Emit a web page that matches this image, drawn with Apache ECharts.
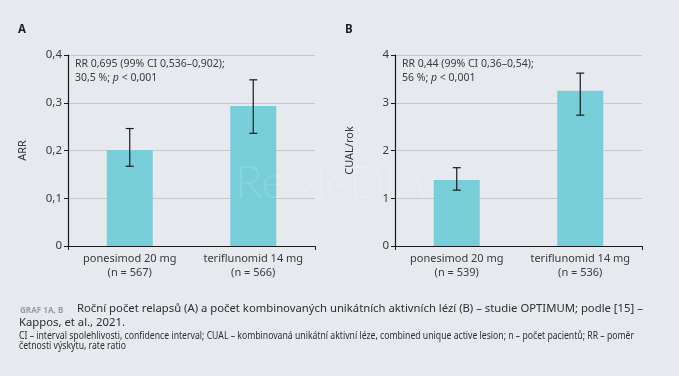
<!DOCTYPE html>
<html>
<head>
<meta charset="utf-8">
<script src="https://cdn.jsdelivr.net/npm/echarts@6/dist/echarts.min.js"></script>
<style>
html, body { margin: 0; padding: 0; background: #e6eaee; }
#main { width: 679px; height: 376px; }
</style>
</head>
<body>
<div id="main"></div>
<script>
// data panel A - rocni pocet relapsu
var catsA = ['ponesimod 20 mg\n(n = 567)', 'teriflunomid 14 mg\n(n = 566)'];
var arrVal = [0.201, 0.293];
var arrLow = [0.167, 0.236];
var arrHigh = [0.246, 0.348];
// data panel B - CUAL/rok
var catsB = ['ponesimod 20 mg\n(n = 539)', 'teriflunomid 14 mg\n(n = 536)'];
var cualVal = [1.38, 3.25];
var cualLow = [1.17, 2.74];
var cualHigh = [1.64, 3.62];
// osy
var ticksA = [0, 0.1, 0.2, 0.3, 0.4];
var ticksB = [0, 1, 2, 3, 4];

var font = 'Noto Sans';
var txt = '#3a3a3a';
var barColor = '#77cdd8';

var myChart = echarts.init(document.getElementById('main'), null, {renderer: 'canvas'});

function errItem(params, api) {
    var x = api.value(0);
    var lo = api.coord([x, api.value(1)]);
    var hi = api.coord([x, api.value(2)]);
    var w = 4;
    var st = {stroke: '#1a1a1a', lineWidth: 1.2};
    return {
        type: 'group',
        children: [
            {type: 'line', shape: {x1: hi[0], y1: hi[1], x2: lo[0], y2: lo[1]}, style: st},
            {type: 'line', shape: {x1: hi[0] - w, y1: hi[1], x2: hi[0] + w, y2: hi[1]}, style: st},
            {type: 'line', shape: {x1: lo[0] - w, y1: lo[1], x2: lo[0] + w, y2: lo[1]}, style: st}
        ]
    };
}

function xAx(idx, cats) {
    return {
        type: 'category',
        gridIndex: idx,
        data: cats,
        axisLine: {lineStyle: {color: '#1a1a1a', width: 1.2}},
        axisTick: {show: true, length: 4, interval: function (i) { return i === 0; }, lineStyle: {color: '#1a1a1a'}},
        axisLabel: {color: txt, fontFamily: font, fontSize: 11, lineHeight: 14, margin: 6, interval: 0}
    };
}

function yAx(idx, name, ticks, fmt) {
    return {
        type: 'value',
        gridIndex: idx,
        min: ticks[0],
        max: ticks[ticks.length - 1],
        interval: ticks[1] - ticks[0],
        name: name,
        nameLocation: 'middle',
        nameRotate: 90,
        nameGap: 40,
        nameTextStyle: {color: txt, fontFamily: font, fontSize: 11},
        axisLine: {show: true, lineStyle: {color: '#1a1a1a', width: 1.2}},
        axisTick: {show: true, length: 4, lineStyle: {color: '#1a1a1a'}},
        axisLabel: {color: txt, fontFamily: font, fontSize: 11.5, margin: 6, formatter: fmt},
        splitLine: {lineStyle: {color: '#c6c9cc', width: 1}}
    };
}

var fmtA = function (v) { return v === 0 ? '0' : v.toFixed(1).replace('.', ','); };
var fmtB = function (v) { return String(v); };

var option = {
    backgroundColor: '#e6eaee',
    animation: false,
    grid: [
        {left: 68, top: 55, width: 247, height: 191},
        {left: 395, top: 55, width: 247, height: 191}
    ],
    xAxis: [xAx(0, catsA), xAx(1, catsB)],
    yAxis: [yAx(0, 'ARR', ticksA, fmtA), yAx(1, 'CUAL/rok', ticksB, fmtB)],
    series: [
        {type: 'bar', xAxisIndex: 0, yAxisIndex: 0, data: arrVal, barWidth: 46, itemStyle: {color: barColor}},
        {type: 'custom', xAxisIndex: 0, yAxisIndex: 0, renderItem: errItem, z: 5,
            data: arrVal.map(function (v, i) { return [i, arrLow[i], arrHigh[i]]; })},
        {type: 'bar', xAxisIndex: 1, yAxisIndex: 1, data: cualVal, barWidth: 46, itemStyle: {color: barColor}},
        {type: 'custom', xAxisIndex: 1, yAxisIndex: 1, renderItem: errItem, z: 5,
            data: cualVal.map(function (v, i) { return [i, cualLow[i], cualHigh[i]]; })}
    ],
    graphic: [
        {type: 'text', left: 18, top: 24, style: {text: 'A', fontFamily: font, fontSize: 11.5, fontWeight: 'bold', fill: '#222'}},
        {type: 'text', left: 345, top: 24, style: {text: 'B', fontFamily: font, fontSize: 11.5, fontWeight: 'bold', fill: '#222'}},
        {type: 'text', left: 75, top: 57, z: 10, style: {text: 'RR 0,695 (99% CI 0,536\u20130,902);\n30,5 %; {i|p} < 0,001',
            fontFamily: font, fontSize: 10.5, lineHeight: 14, fill: txt,
            rich: {i: {fontStyle: 'italic', fontFamily: font, fontSize: 10.5, fill: txt}}}},
        {type: 'text', left: 402, top: 57, z: 10, style: {text: 'RR 0,44 (99% CI 0,36\u20130,54);\n56 %; {i|p} < 0,001',
            fontFamily: font, fontSize: 10.5, lineHeight: 14, fill: txt,
            rich: {i: {fontStyle: 'italic', fontFamily: font, fontSize: 10.5, fill: txt}}}},
        // vodoznak
        {type: 'text', left: 235, top: 160, z: 20, style: {text: 'ReMeDIA', fontFamily: 'Lato', fontWeight: 300, fontSize: 46,
            fill: 'rgba(255,255,255,0.13)'}},
        // popisek
        {type: 'text', x: 20, y: 306, scaleX: 0.9, style: {text: 'GRAF 1A, B', fontFamily: font, fontSize: 9, fontWeight: 'bold', fill: '#9a9da0'}},
        {type: 'text', x: 77, y: 303, style: {text: 'Ro\u010dn\u00ed po\u010det relaps\u016f (A) a po\u010det kombinovan\u00fdch unik\u00e1tn\u00edch aktivn\u00edch l\u00e9z\u00ed (B) \u2013 studie OPTIMUM; podle [15] \u2013',
            fontFamily: font, fontSize: 11.3, fill: '#2e2e2e'}},
        {type: 'text', x: 19, y: 317, style: {text: 'Kappos, et al., 2021.', fontFamily: font, fontSize: 11.3, fill: '#2e2e2e'}},
        {type: 'text', x: 19, y: 331, scaleX: 0.825, style: {text: 'CI \u2013 interval spolehlivosti, confidence interval; CUAL \u2013 kombinovan\u00e1 unik\u00e1tn\u00ed aktivn\u00ed l\u00e9ze, combined unique active lesion; n \u2013 po\u010det pacient\u016f; RR \u2013 pom\u011br\n\u010detnosti v\u00fdskytu, rate ratio',
            fontFamily: font, fontSize: 10.5, lineHeight: 10, fill: '#2e2e2e'}}
    ]
};

myChart.setOption(option);
</script>
</body>
</html>
